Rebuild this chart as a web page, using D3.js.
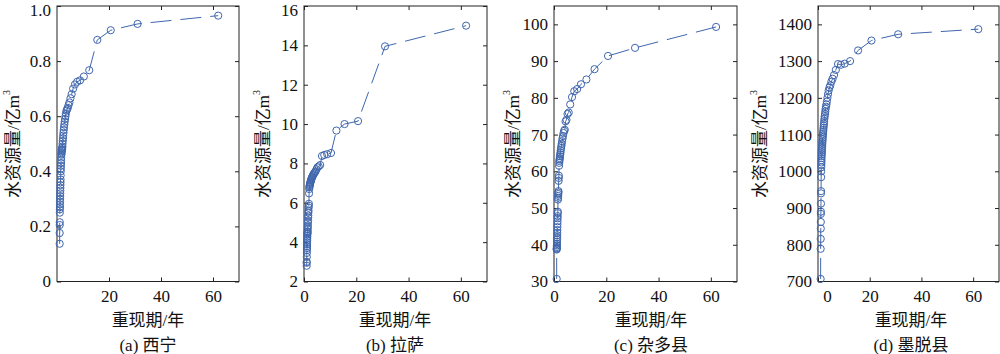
<!DOCTYPE html>
<html>
<head>
<meta charset="utf-8">
<script src="https://cdn.jsdelivr.net/npm/d3@7"></script>
<style>
  body { margin: 0; background: #fff; }
  svg { display: block; }
  .tick text { font-family: "Liberation Serif", "Times New Roman", serif; font-size: 17px; fill: #111; }
  .lbl { font-family: "Liberation Serif", "Noto Sans CJK SC", serif; font-size: 17px; fill: #111; }
</style>
</head>
<body>
<svg width="1000" height="354"></svg>
<script>
/* return period curves, four stations */

// DATA ////////////////////////////////////////////////////////////////////////
// return period (years), largest first
const returnPeriod = [62, 31, 20.67, 15.5, 12.4, 10.33, 8.86, 7.75, 6.89, 6.2,
  5.64, 5.17, 4.77, 4.43, 4.13, 3.88, 3.65, 3.44, 3.26, 3.1,
  2.95, 2.82, 2.7, 2.58, 2.48, 2.38, 2.3, 2.21, 2.14, 2.07,
  2, 1.94, 1.88, 1.82, 1.77, 1.72, 1.68, 1.63, 1.59, 1.55,
  1.51, 1.48, 1.44, 1.41, 1.38, 1.35, 1.32, 1.29, 1.27, 1.24,
  1.22, 1.19, 1.17, 1.15, 1.13, 1.11, 1.09, 1.07, 1.05, 1.03, 1.02];

// water resources (亿m3), same order
const xining = [0.965, 0.935, 0.912, 0.877, 0.767, 0.744, 0.73, 0.725, 0.715, 0.7,
  0.68, 0.665, 0.65, 0.64, 0.63, 0.625, 0.62, 0.61, 0.6, 0.59,
  0.58, 0.57, 0.56, 0.55, 0.54, 0.53, 0.52, 0.51, 0.5, 0.49,
  0.485, 0.48, 0.478, 0.475, 0.47, 0.465, 0.46, 0.45, 0.44, 0.43,
  0.42, 0.41, 0.4, 0.385, 0.37, 0.36, 0.35, 0.34, 0.33, 0.32,
  0.31, 0.3, 0.29, 0.28, 0.27, 0.262, 0.25, 0.215, 0.205, 0.176, 0.137];

const lhasa = [15.0, 13.95, 10.15, 10.0, 9.67, 8.53, 8.47, 8.43, 8.38, 7.92,
  7.85, 7.8, 7.7, 7.6, 7.55, 7.5, 7.45, 7.4, 7.35, 7.3,
  7.25, 7.2, 7.15, 7.1, 7.05, 7.0, 6.95, 6.9, 6.85, 6.8,
  6.7, 6.48, 5.95, 5.85, 5.75, 5.6, 5.5, 5.35, 5.25, 5.1,
  5.0, 4.85, 4.75, 4.65, 4.55, 4.5, 4.45, 4.4, 4.3, 4.2,
  4.1, 4.0, 3.9, 3.8, 3.7, 3.6, 3.45, 3.25, 3.0, 2.95, 2.8];

const zaduo = [99.3, 93.6, 91.4, 87.8, 85.0, 83.7, 82.4, 81.8, 80.2, 78.2,
  76.0, 75.6, 74.0, 73.6, 71.3, 71.0, 70.4, 69.6, 68.9, 68.2,
  67.5, 66.9, 66.3, 65.7, 65.1, 64.6, 64.1, 63.6, 63.2, 62.8,
  62.3, 61.5, 58.8, 58.2, 57.4, 54.6, 54.2, 53.8, 53.3, 52.8,
  52.3, 49.0, 48.6, 47.8, 47.2, 46.4, 45.6, 44.8, 44.0, 43.3,
  42.6, 42.0, 41.4, 40.8, 40.2, 39.8, 39.4, 39.1, 38.9, 38.7, 30.7];

const motuo = [1387, 1373, 1356, 1329, 1300, 1293, 1290, 1292, 1276, 1262,
  1252, 1244, 1234, 1228, 1220, 1210, 1200, 1190, 1182, 1176,
  1170, 1163, 1156, 1150, 1143, 1136, 1130, 1124, 1118, 1112,
  1107, 1102, 1097, 1092, 1087, 1082, 1077, 1072, 1067, 1062,
  1057, 1052, 1047, 1042, 1036, 1030, 1024, 1018, 1011, 1000,
  984, 946, 940, 912, 890, 884, 862, 844, 816, 789, 707];

const captions = ['(a) 西宁', '(b) 拉萨', '(c) 杂多县', '(d) 墨脱县'];
const xTickValues = [0, 20, 40, 60];

// SET PARAMETERS //////////////////////////////////////////////////////////////
const svg = d3.select('svg');
const plotTop = 6;
const plotBottom = 281.5;
const color = '#3f66ad';

const panels = [
  { values: xining, left: 57, right: 239, yDomain: [0, 1], yTicks: [0, 0.2, 0.4, 0.6, 0.8, 1.0],
    fmt: d => (d === 0 ? '0' : d3.format('.1f')(d)), xTicks: [20, 40, 60], ylabX: 13, labX: 148 },
  { values: lhasa, left: 304, right: 487, yDomain: [2, 16], yTicks: d3.range(2, 17, 2),
    fmt: d3.format('d'), xTicks: xTickValues, ylabX: 263, labX: 395 },
  { values: zaduo, left: 554, right: 737, yDomain: [30, 105], yTicks: d3.range(30, 101, 10),
    fmt: d3.format('d'), xTicks: xTickValues, ylabX: 513, labX: 651 },
  { values: motuo, left: 818, right: 999, yDomain: [700, 1450], yTicks: d3.range(700, 1401, 100),
    fmt: d3.format('d'), xTicks: xTickValues, ylabX: 760, labX: 911, zeroShift: 9 }
];

// DRAW ///////////////////////////////////////////////////////////////////////
panels.forEach((p, i) => {
  const x = d3.scaleLinear().domain([0, 70]).range([p.left, p.right]);
  const y = d3.scaleLinear().domain(p.yDomain).range([plotBottom, plotTop]);
  const g = svg.append('g');

  // data, smallest return period first (dash pattern starts at the bottom)
  const data = returnPeriod.map((t, k) => ({ t: t, v: p.values[k] })).reverse();

  // axes, ticks inside like matlab
  const yAxis = g.append('g')
    .attr('transform', `translate(${p.left},0)`)
    .call(d3.axisLeft(y).tickValues(p.yTicks).tickFormat(p.fmt).tickSizeInner(-4).tickSizeOuter(0).tickPadding(6));
  g.append('g')
    .attr('transform', `translate(${p.right},0)`)
    .call(d3.axisRight(y).tickValues(p.yTicks).tickFormat('').tickSizeInner(-4).tickSizeOuter(0));
  g.append('g')
    .attr('transform', `translate(0,${plotBottom})`)
    .call(d3.axisBottom(x).tickValues(p.xTicks).tickSizeInner(-4).tickSizeOuter(0).tickPadding(8));
  g.append('g')
    .attr('transform', `translate(0,${plotTop})`)
    .call(d3.axisTop(x).tickValues(p.xTicks).tickFormat('').tickSizeInner(-4).tickSizeOuter(0));

  g.selectAll('.domain').remove();
  g.selectAll('.tick line').attr('stroke', '#222');

  // top label near the page edge, push it down a bit
  yAxis.selectAll('.tick text')
    .filter(d => y(d) < plotTop + 5)
    .attr('dy', '0.55em');

  // label 0 on (d) sits a little to the right
  if (p.zeroShift) {
    g.selectAll('.tick text').filter(d => d === 0).attr('dx', p.zeroShift);
  }

  g.append('rect')
    .attr('x', p.left)
    .attr('y', plotTop)
    .attr('width', p.right - p.left)
    .attr('height', plotBottom - plotTop)
    .attr('fill', 'none')
    .attr('stroke', '#222')
    .attr('stroke-width', 1);

  // dashed line
  const line = d3.line().x(d => x(d.t)).y(d => y(d.v));
  g.append('path')
    .datum(data)
    .attr('d', line)
    .attr('fill', 'none')
    .attr('stroke', color)
    .attr('stroke-width', 1)
    .attr('stroke-dasharray', '21,9');

  // markers
  g.selectAll('circle')
    .data(data)
    .enter()
    .append('circle')
    .attr('cx', d => x(d.t))
    .attr('cy', d => y(d.v))
    .attr('r', 3.6)
    .attr('fill', 'none')
    .attr('stroke', color)
    .attr('stroke-width', 1);

  // y label
  const yl = g.append('text')
    .attr('class', 'lbl')
    .attr('transform', `translate(${p.ylabX},144) rotate(-90)`)
    .attr('text-anchor', 'middle')
    .attr('dominant-baseline', 'central');
  yl.append('tspan').text('水资源量/亿m');
  yl.append('tspan').attr('font-size', 10).attr('dy', -7).text('3');

  // x label + caption
  g.append('text')
    .attr('class', 'lbl')
    .attr('x', p.labX)
    .attr('y', 320)
    .attr('text-anchor', 'middle')
    .attr('dominant-baseline', 'central')
    .text('重现期/年');
  g.append('text')
    .attr('class', 'lbl')
    .attr('x', p.labX)
    .attr('y', 345)
    .attr('text-anchor', 'middle')
    .attr('dominant-baseline', 'central')
    .text(captions[i]);
});
</script>
</body>
</html>
